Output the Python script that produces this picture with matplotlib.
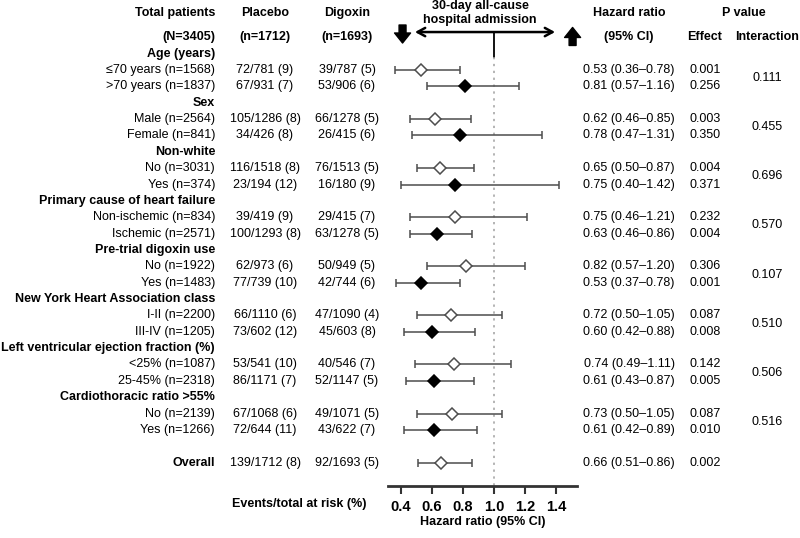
#!/usr/bin/env python3
"""Forest plot: 30-day all-cause hospital admission, digoxin vs placebo by subgroup."""

import matplotlib

matplotlib.use("Agg")
import matplotlib.pyplot as plt
import matplotlib.transforms as mtransforms

GROUPS = [
    "Age (years)",
    "Sex",
    "Non-white",
    "Primary cause of heart failure",
    "Pre-trial digoxin use",
    "New York Heart Association class",
    "Left ventricular ejection fraction (%)",
    "Cardiothoracic ratio >55%",
]
SUBGROUPS = [
    "≤70 years (n=1568)", ">70 years (n=1837)",
    "Male (n=2564)", "Female (n=841)",
    "No (n=3031)", "Yes (n=374)",
    "Non-ischemic (n=834)", "Ischemic (n=2571)",
    "No (n=1922)", "Yes (n=1483)",
    "I-II (n=2200)", "III-IV (n=1205)",
    "<25% (n=1087)", "25-45% (n=2318)",
    "No (n=2139)", "Yes (n=1266)",
]
PLACEBO = [
    "72/781 (9)", "67/931 (7)", "105/1286 (8)", "34/426 (8)",
    "116/1518 (8)", "23/194 (12)", "39/419 (9)", "100/1293 (8)",
    "62/973 (6)", "77/739 (10)", "66/1110 (6)", "73/602 (12)",
    "53/541 (10)", "86/1171 (7)", "67/1068 (6)", "72/644 (11)",
]
DIGOXIN = [
    "39/787 (5)", "53/906 (6)", "66/1278 (5)", "26/415 (6)",
    "76/1513 (5)", "16/180 (9)", "29/415 (7)", "63/1278 (5)",
    "50/949 (5)", "42/744 (6)", "47/1090 (4)", "45/603 (8)",
    "40/546 (7)", "52/1147 (5)", "49/1071 (5)", "43/622 (7)",
]
HR = [0.53, 0.81, 0.62, 0.78, 0.65, 0.75, 0.75, 0.63,
      0.82, 0.53, 0.72, 0.60, 0.74, 0.61, 0.73, 0.61]
HR_LO = [0.36, 0.57, 0.46, 0.47, 0.50, 0.40, 0.46, 0.46,
         0.57, 0.37, 0.50, 0.42, 0.49, 0.43, 0.50, 0.42]
HR_HI = [0.78, 1.16, 0.85, 1.31, 0.87, 1.42, 1.21, 0.86,
         1.20, 0.78, 1.05, 0.88, 1.11, 0.87, 1.05, 0.89]
P_EFFECT = ["0.001", "0.256", "0.003", "0.350", "0.004", "0.371", "0.232", "0.004",
            "0.306", "0.001", "0.087", "0.008", "0.142", "0.005", "0.087", "0.010"]
P_INTERACTION = ["0.111", "0.455", "0.696", "0.570", "0.107", "0.510", "0.506", "0.516"]

OVERALL_PLACEBO = "139/1712 (8)"
OVERALL_DIGOXIN = "92/1693 (5)"
OVERALL_HR = 0.66
OVERALL_LO = 0.51
OVERALL_HI = 0.86
OVERALL_P = "0.002"

TICKS = [0.4, 0.6, 0.8, 1.0, 1.2, 1.4]

# column x positions (figure fraction)
W = 800.0
X_LABEL = 215 / W
X_PLACEBO = 265 / W
X_DIGOXIN = 347 / W
X_HR = 629 / W
X_EFFECT = 705 / W
X_INTER = 767 / W

FS = 9
LINE_COL = "#4d4d4d"
BLOCK = "simple,head_length=0.72,head_width=1.15,tail_width=0.5"


def main() -> None:
    plt.rcParams["font.family"] = ["Liberation Sans", "DejaVu Sans"]

    fig = plt.figure(figsize=(8, 5.38), dpi=100)
    ax = fig.add_axes([0, 0, 1, 1])
    # x in hazard ratio units, y in row units (row 0 = first subgroup)
    ax.set_xlim(1 - 494 / 155, 1 + 306 / 155)
    ax.set_ylim((538 - 70) / 16.36, -70 / 16.36)
    for side in ("top", "left", "right"):
        ax.spines[side].set_visible(False)
    ax.set_yticks([])
    ax.patch.set_alpha(0)

    tr = mtransforms.blended_transform_factory(ax.transAxes, ax.transData)

    # header
    y1, y2 = -3.48, -2.02
    ax.text(X_LABEL, y1, "Total patients", transform=tr, ha="right", va="center",
            fontsize=FS, fontweight="bold")
    ax.text(X_LABEL, y2, "(N=3405)", transform=tr, ha="right", va="center",
            fontsize=FS, fontweight="bold")
    for xc, t1, t2 in [(X_PLACEBO, "Placebo", "(n=1712)"),
                       (X_DIGOXIN, "Digoxin", "(n=1693)"),
                       (X_HR, "Hazard ratio", "(95% CI)")]:
        ax.text(xc, y1, t1, transform=tr, ha="center", va="center",
                fontsize=FS, fontweight="bold")
        ax.text(xc, y2, t2, transform=tr, ha="center", va="center",
                fontsize=FS, fontweight="bold")
    ax.text(744 / W, y1, "P value", transform=tr, ha="center", va="center",
            fontsize=FS, fontweight="bold")
    ax.text(X_EFFECT, y2, "Effect", transform=tr, ha="center", va="center",
            fontsize=FS, fontweight="bold")
    ax.text(X_INTER, y2, "Interaction", transform=tr, ha="center", va="center",
            fontsize=FS, fontweight="bold")

    ax.text(0.91, -3.92, "30-day all-cause", ha="center", va="center",
            fontsize=FS, fontweight="bold")
    ax.text(0.91, -3.03, "hospital admission", ha="center", va="center",
            fontsize=FS, fontweight="bold")
    ax.annotate("", xy=(0.49, -2.32), xytext=(1.394, -2.32),
                arrowprops=dict(arrowstyle="<->,head_length=0.55,head_width=0.3",
                                lw=1.8, color="black", shrinkA=0, shrinkB=0))
    ax.plot([1.0, 1.0], [-2.32, -0.8], color="black", lw=1.3)
    ax.annotate("", xy=(0.41, -1.65), xytext=(0.41, -2.75),
                arrowprops=dict(arrowstyle=BLOCK, mutation_scale=10, fc="black",
                                ec="black", shrinkA=0, shrinkB=0))
    ax.annotate("", xy=(1.507, -2.6), xytext=(1.507, -1.5),
                arrowprops=dict(arrowstyle=BLOCK, mutation_scale=10, fc="black",
                                ec="black", shrinkA=0, shrinkB=0))

    # reference line
    axis_row = (486 - 70) / 16.36
    ax.plot([1.0, 1.0], [-0.8, axis_row], color="#a0a0a0", lw=1.1, ls=(0, (1.5, 3)))

    # subgroup rows
    for g, name in enumerate(GROUPS):
        r0 = 3 * g
        ax.text(X_LABEL, r0 - 1, name, transform=tr, ha="right", va="center",
                fontsize=FS, fontweight="bold")
        ax.text(X_INTER, r0 + 0.5, P_INTERACTION[g], transform=tr, ha="center",
                va="center", fontsize=FS)
        for j in range(2):
            i = 2 * g + j
            r = r0 + j
            ax.text(X_LABEL, r, SUBGROUPS[i], transform=tr, ha="right", va="center", fontsize=FS)
            ax.text(X_PLACEBO, r, PLACEBO[i], transform=tr, ha="center", va="center", fontsize=FS)
            ax.text(X_DIGOXIN, r, DIGOXIN[i], transform=tr, ha="center", va="center", fontsize=FS)
            ax.text(X_HR, r, f"{HR[i]:.2f} ({HR_LO[i]:.2f}–{HR_HI[i]:.2f})",
                    transform=tr, ha="center", va="center", fontsize=FS)
            ax.text(X_EFFECT, r, P_EFFECT[i], transform=tr, ha="center", va="center", fontsize=FS)
            ax.errorbar(HR[i], r, xerr=[[HR[i] - HR_LO[i]], [HR_HI[i] - HR[i]]],
                        fmt="none", ecolor=LINE_COL, elinewidth=1.1, capsize=3,
                        capthick=1.1, zorder=2)
            ax.plot(HR[i], r, marker="D", ms=6.5, mew=1.1,
                    mfc="white" if j == 0 else "black",
                    mec=LINE_COL if j == 0 else "black", zorder=3)

    # overall
    ro = 3 * len(GROUPS)
    ax.text(X_LABEL, ro, "Overall", transform=tr, ha="right", va="center",
            fontsize=FS, fontweight="bold")
    ax.text(X_PLACEBO, ro, OVERALL_PLACEBO, transform=tr, ha="center", va="center", fontsize=FS)
    ax.text(X_DIGOXIN, ro, OVERALL_DIGOXIN, transform=tr, ha="center", va="center", fontsize=FS)
    ax.text(X_HR, ro, f"{OVERALL_HR:.2f} ({OVERALL_LO:.2f}–{OVERALL_HI:.2f})",
            transform=tr, ha="center", va="center", fontsize=FS)
    ax.text(X_EFFECT, ro, OVERALL_P, transform=tr, ha="center", va="center", fontsize=FS)
    ax.errorbar(OVERALL_HR, ro, xerr=[[OVERALL_HR - OVERALL_LO], [OVERALL_HI - OVERALL_HR]],
                fmt="none", ecolor=LINE_COL, elinewidth=1.1, capsize=3, capthick=1.1, zorder=2)
    ax.plot(OVERALL_HR, ro, marker="D", ms=6.5, mew=1.1, mfc="white", mec=LINE_COL, zorder=3)

    # hazard ratio axis
    lo_b, hi_b = 1 - 106 / 155, 1 + 83 / 155
    ax.spines["bottom"].set_position(("data", axis_row))
    ax.spines["bottom"].set_bounds(lo_b, hi_b)
    ax.spines["bottom"].set_linewidth(2)
    ax.spines["bottom"].set_color("#333333")
    ax.set_xticks(TICKS)
    ax.set_xticklabels([f"{t:.1f}" for t in TICKS], fontsize=10.5, fontweight="bold")
    ax.tick_params(axis="x", direction="out", length=6, width=1.5, color="#333333", pad=4)
    ax.text((lo_b + hi_b) / 2, (522 - 70) / 16.36, "Hazard ratio (95% CI)",
            ha="center", va="center", fontsize=FS, fontweight="bold")
    ax.text(299 / W, (504 - 70) / 16.36, "Events/total at risk (%)", transform=tr,
            ha="center", va="center", fontsize=FS, fontweight="bold")

    fig.savefig("out.png", dpi=100)


if __name__ == "__main__":
    main()
